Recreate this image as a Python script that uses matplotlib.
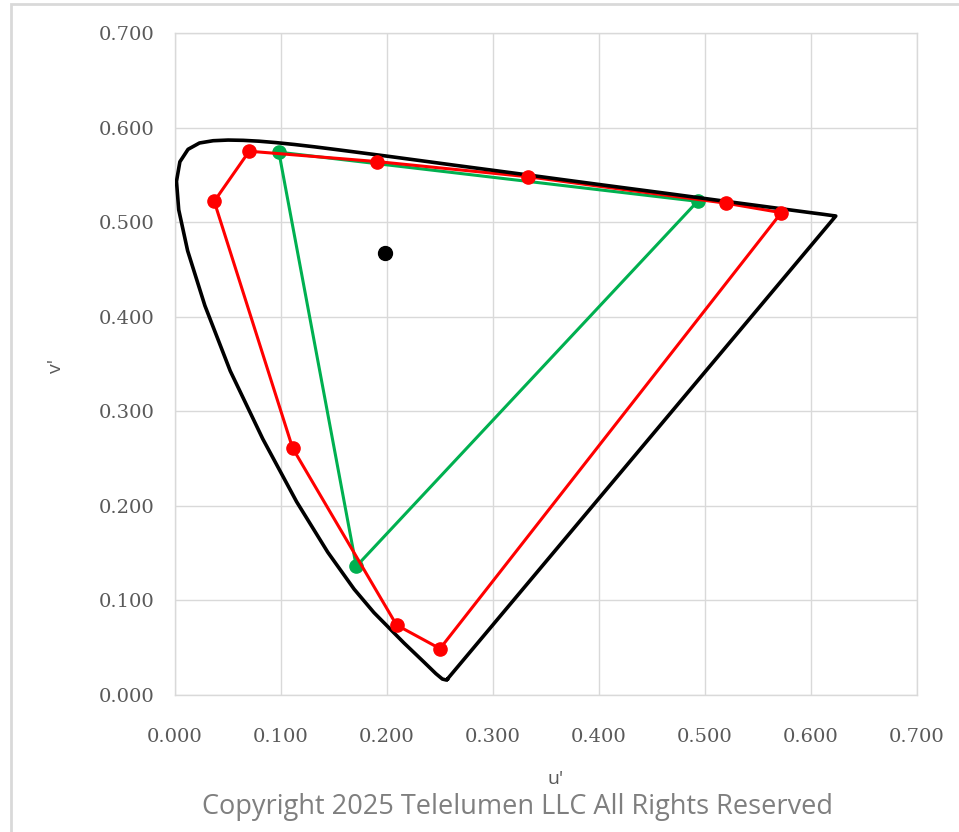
import matplotlib
matplotlib.use("Agg")
import matplotlib.pyplot as plt
from matplotlib.patches import Rectangle

# CIE 1976 spectral locus (u', v'), 380 nm -> 700 nm
locus_u = [0.2568, 0.2557, 0.2522, 0.2461, 0.2347, 0.2161, 0.1877, 0.1690, 0.1441,
           0.1147, 0.0828, 0.0521, 0.0282, 0.0119, 0.0035, 0.0014, 0.0046, 0.0123,
           0.0231, 0.0360, 0.0501, 0.0643, 0.0792, 0.0953, 0.1127, 0.1319, 0.1531,
           0.1766, 0.2026, 0.2312, 0.2623, 0.2960, 0.3315, 0.3681, 0.4035, 0.4692,
           0.5203, 0.5565, 0.5830, 0.6005, 0.6109, 0.6199, 0.6234]
locus_v = [0.0166, 0.0159, 0.0169, 0.0226, 0.0350, 0.0549, 0.0871, 0.1119, 0.1510,
           0.2044, 0.2708, 0.3427, 0.4117, 0.4698, 0.5131, 0.5432, 0.5638, 0.5770,
           0.5837, 0.5861, 0.5868, 0.5865, 0.5856, 0.5841, 0.5821, 0.5796, 0.5766,
           0.5732, 0.5694, 0.5651, 0.5604, 0.5554, 0.5501, 0.5446, 0.5393, 0.5296,
           0.5219, 0.5165, 0.5125, 0.5099, 0.5084, 0.5070, 0.5065]

# Red multi-primary gamut
red_u = [0.037, 0.070, 0.191, 0.333, 0.520, 0.572, 0.250, 0.209, 0.111]
red_v = [0.522, 0.575, 0.564, 0.548, 0.520, 0.510, 0.049, 0.074, 0.261]

# Green triangle gamut
green_u = [0.098, 0.493, 0.171]
green_v = [0.574, 0.522, 0.136]

# White point
white_u = [0.198]
white_v = [0.467]

xticks = [0.0, 0.1, 0.2, 0.3, 0.4, 0.5, 0.6, 0.7]
yticks = [0.0, 0.1, 0.2, 0.3, 0.4, 0.5, 0.6, 0.7]

fig = plt.figure(figsize=(9.59, 8.32), dpi=100)
fig.patch.set_facecolor("white")
# outer chart border
fig.add_artist(Rectangle((11 / 959, -0.05), 1.2, 1 - 4 / 832 + 0.05,
                         transform=fig.transFigure, fill=False,
                         edgecolor="#d9d9d9", linewidth=2.0))

ax = fig.add_axes([175 / 959, 1 - 695 / 832, (917 - 175) / 959, (695 - 33) / 832])
ax.set_xlim(0, 0.7)
ax.set_ylim(0, 0.7)
ax.set_xticks(xticks)
ax.set_yticks(yticks)
ax.set_xticklabels([f"{t:.3f}" for t in xticks])
ax.set_yticklabels([f"{t:.3f}" for t in yticks])
ax.grid(True, color="#d9d9d9", linewidth=1.0)
ax.set_axisbelow(True)
for s in ax.spines.values():
    s.set_color("#d9d9d9")
    s.set_linewidth(1.0)
ax.tick_params(length=0, labelsize=14, labelcolor="#595959")
ax.tick_params(axis="y", pad=15)
ax.tick_params(axis="x", pad=24)
for lab in ax.get_xticklabels() + ax.get_yticklabels():
    lab.set_family("DejaVu Serif")

# green triangle
ax.plot(green_u + green_u[:1], green_v + green_v[:1], color="#00b050", linewidth=2.2, zorder=3)
ax.plot(green_u, green_v, linestyle="none", marker="o", markersize=9.5, color="#00b050", zorder=3)

# red polygon
ax.plot(red_u + red_u[:1], red_v + red_v[:1], color="#ff0000", linewidth=2.2, zorder=4)
ax.plot(red_u, red_v, linestyle="none", marker="o", markersize=9.5, color="#ff0000", zorder=6)

# spectral locus (closed)
ax.plot(locus_u + locus_u[:1], locus_v + locus_v[:1], color="black", linewidth=2.6,
        solid_joinstyle="round", zorder=5)

# white point
ax.plot(white_u, white_v, linestyle="none", marker="o", markersize=10, color="black", zorder=7)

ax.set_xlabel("u'", fontsize=14, color="#595959", family="Open Sans")
ax.set_ylabel("v'", fontsize=14, color="#595959", family="Open Sans")
ax.xaxis.set_label_coords((556 - 175) / 742, (695 - 770) / 662)
ax.yaxis.set_label_coords((65 - 175) / 742, (695 - 366) / 662)

fig.text(517 / 959, 1 - 807 / 832, "Copyright 2025 Telelumen LLC All Rights Reserved",
         ha="center", va="center", fontsize=19.5, color="#7f7f7f", family="Open Sans")

fig.savefig("out.png", dpi=100)
